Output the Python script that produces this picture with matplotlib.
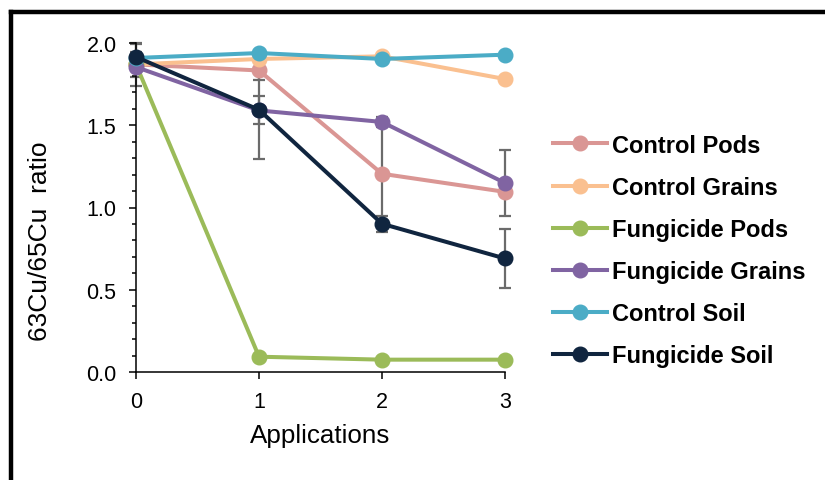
import matplotlib
matplotlib.use('Agg')
import matplotlib.pyplot as plt
from matplotlib.lines import Line2D
from matplotlib.ticker import MultipleLocator, FormatStrFormatter

plt.rcParams['font.family'] = ['Liberation Sans', 'DejaVu Sans']

# datos
aplicaciones = [0, 1, 2, 3]
series = ['Control Pods', 'Control Grains', 'Fungicide Pods',
          'Fungicide Grains', 'Control Soil', 'Fungicide Soil']

control_pods = [1.87, 1.833, 1.205, 1.095]
control_grains = [1.87, 1.903, 1.919, 1.781]
fungicide_pods = [1.87, 0.093, 0.075, 0.075]
fungicide_grains = [1.854, 1.59, 1.52, 1.149]
control_soil = [1.909, 1.939, 1.903, 1.929]
fungicide_soil = [1.915, 1.594, 0.901, 0.69]

err_control_pods = [0.13, 0.055, 0.29, 0.0]
err_control_grains = [0.0, 0.0, 0.0, 0.0]
err_fungicide_pods = [0.075, 0.0, 0.0, 0.0]
err_fungicide_grains = [0.0, 0.085, 0.03, 0.2]
err_control_soil = [0.0, 0.0, 0.0, 0.0]
err_fungicide_soil = [0.08, 0.3, 0.05, 0.18]

valores = [control_pods, control_grains, fungicide_pods,
           fungicide_grains, control_soil, fungicide_soil]
errores = [err_control_pods, err_control_grains, err_fungicide_pods,
           err_fungicide_grains, err_control_soil, err_fungicide_soil]
colores = ['#DA9694', '#FAC090', '#9BBB59', '#8064A2', '#4BACC6', '#10253F']

fig = plt.figure(figsize=(8.25, 4.81), dpi=100)
ax = fig.add_axes([136 / 825, 1 - 373 / 481, 369 / 825, 329 / 481])

# barras de error primero, debajo de las lineas
for vals, errs in zip(valores, errores):
    if any(errs):
        ax.errorbar(aplicaciones, vals, yerr=errs, fmt='none', ecolor='#6b6b6b',
                    elinewidth=1.6, capsize=4.3, capthick=1.6, zorder=1.5,
                    clip_on=False)

for nombre, vals, color in zip(series, valores, colores):
    ax.plot(aplicaciones, vals, color=color, lw=2.9, marker='o', ms=10.5,
            label=nombre, clip_on=False, zorder=3)

ax.set_xlim(0, 3)
ax.set_ylim(0, 2.0)
ax.set_xticks(aplicaciones)
ax.yaxis.set_major_locator(MultipleLocator(0.5))
ax.yaxis.set_minor_locator(MultipleLocator(0.1))
ax.yaxis.set_major_formatter(FormatStrFormatter('%.1f'))

for lado in ['top', 'right']:
    ax.spines[lado].set_visible(False)
for lado in ['left', 'bottom']:
    ax.spines[lado].set_linewidth(1.1)
ax.tick_params(axis='both', which='major', direction='out', length=5, width=1.1,
               labelsize=15.5, pad=9)
ax.tick_params(axis='y', which='minor', direction='out', length=3, width=1.1)

ax.set_xlabel('Applications', fontsize=18.7)
ax.set_ylabel('63Cu/65Cu  ratio', fontsize=19)
ax.xaxis.set_label_coords(0.5, -0.155)
ax.yaxis.set_label_coords(-0.228, 0.40)

fig.legend(loc='center left', bbox_to_anchor=(553 / 825, 1 - 251.5 / 481),
           frameon=False, borderpad=0, borderaxespad=0,
           prop={'weight': 'bold', 'size': 17}, handlelength=2.29,
           handletextpad=0.2, labelspacing=0.81)

# marco negro grueso (arriba e izquierda)
y_top = 1 - 13 / 481
x_left = 10.5 / 825
fig.add_artist(Line2D([x_left, 1.0], [y_top, y_top], color='black', lw=3.2,
                      transform=fig.transFigure, solid_capstyle='projecting'))
fig.add_artist(Line2D([x_left, x_left], [0, y_top], color='black', lw=3.2,
                      transform=fig.transFigure, solid_capstyle='projecting'))

plt.savefig('out.png', dpi=100)
